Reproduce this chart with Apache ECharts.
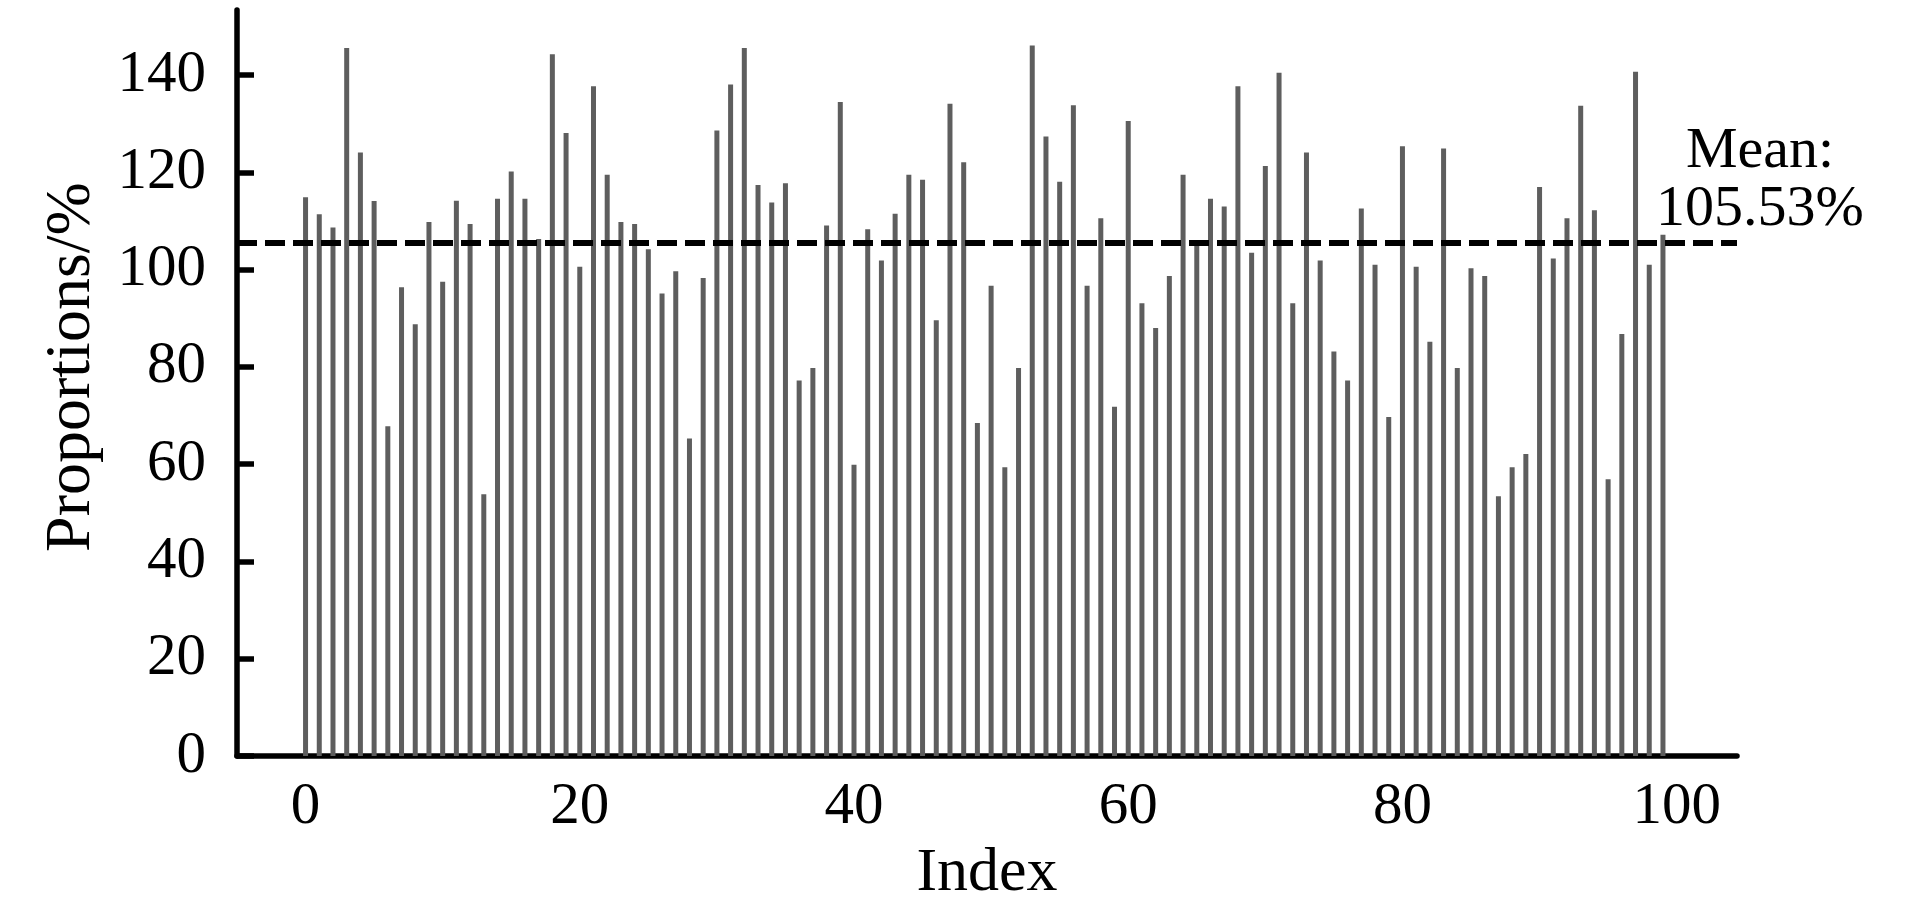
<!DOCTYPE html>
<html><head><meta charset="utf-8">
<script src="https://cdn.jsdelivr.net/npm/echarts@6/dist/echarts.min.js"></script>
<style>html,body{margin:0;padding:0;background:#fff}#c{width:1913px;height:898px}</style>
</head><body><div id="c"></div>
<script>
// Proportion (%) for each index 0..99
const proportions = [
  114.9, 111.4, 108.7, 145.6, 124.1, 114.1, 67.8, 96.4, 88.8, 109.8,
  97.5, 114.2, 109.4, 53.8, 114.6, 120.2, 114.6, 106.3, 144.3, 128.1,
  100.6, 137.7, 119.5, 109.8, 109.4, 104.2, 95.1, 99.7, 65.3, 98.3,
  128.6, 138.1, 145.6, 117.4, 113.8, 117.8, 77.2, 79.8, 109.1, 134.5,
  59.9, 108.3, 101.9, 111.5, 119.5, 118.5, 89.6, 134.1, 122.1, 68.5,
  96.7, 59.4, 79.8, 146.1, 127.4, 118.1, 133.8, 96.7, 110.6, 71.8,
  130.6, 93.1, 88.0, 98.7, 119.5, 105.1, 114.6, 113.0, 137.7, 103.5,
  121.3, 140.5, 93.1, 124.1, 101.9, 83.2, 77.2, 112.6, 101.0, 69.7,
  125.4, 100.6, 85.2, 124.9, 79.8, 100.3, 98.7, 53.4, 59.4, 62.1,
  117.0, 102.3, 110.6, 133.7, 112.2, 56.9, 86.8, 140.7, 101.0, 107.2
];
const meanValue = 105.53;
const meanLabel = 'Mean:\n105.53%';
const xTicks = [0, 20, 40, 60, 80, 100];
const yTicks = [0, 20, 40, 60, 80, 100, 120, 140];
const xName = 'Index';
const yName = 'Proportions/%';

const tickFont = 'Liberation Serif';
const chart = echarts.init(document.getElementById('c'), null, {renderer: 'canvas'});
chart.setOption({
  animation: false,
  grid: {left: 237, right: 176, top: 10, bottom: 142, containLabel: false, outerBoundsMode: 'none'},
  xAxis: {
    type: 'value', min: -5, max: 104.4,
    axisLine: {onZero: false, lineStyle: {color: '#000', width: 5.5}},
    axisTick: {show: false},
    splitLine: {show: false},
    axisLabel: {customValues: xTicks, fontFamily: tickFont, fontSize: 59, color: '#000', margin: 22},
    name: xName, nameLocation: 'middle', nameGap: 87,
    nameTextStyle: {fontFamily: 'Liberation Serif', fontSize: 62, color: '#000'}
  },
  yAxis: {
    type: 'value', min: 0, max: 153.4,
    axisLine: {onZero: false, lineStyle: {color: '#000', width: 5.5}},
    axisTick: {show: true, inside: true, length: 17, lineStyle: {color: '#000', width: 5.5}, customValues: yTicks},
    splitLine: {show: false},
    axisLabel: {customValues: yTicks, fontFamily: tickFont, fontSize: 59, color: '#000', margin: 31},
    name: yName, nameLocation: 'middle', nameGap: 133, nameRotate: 90,
    nameTextStyle: {fontFamily: 'Liberation Serif', fontSize: 64, color: '#000', padding: [0, 0, 0, 32]}
  },
  series: [{
    type: 'bar',
    data: proportions.map((v, i) => [i, v]),
    barWidth: 5,
    itemStyle: {color: '#5e5e5e'},
    markLine: {
      silent: true, symbol: 'none',
      data: [{yAxis: meanValue}],
      lineStyle: {type: [20, 8], color: '#000', width: 6},
      label: {show: false}
    }
  }]
});
const meanY = chart.convertToPixel({yAxisIndex: 0}, meanValue);
chart.setOption({
  graphic: [{
    type: 'text', x: 1760, y: meanY - 4,
    style: {text: meanLabel, fontFamily: 'Liberation Serif', fontSize: 58, lineHeight: 58,
      fill: '#000', align: 'center', verticalAlign: 'bottom'}
  }]
});
</script></body></html>
